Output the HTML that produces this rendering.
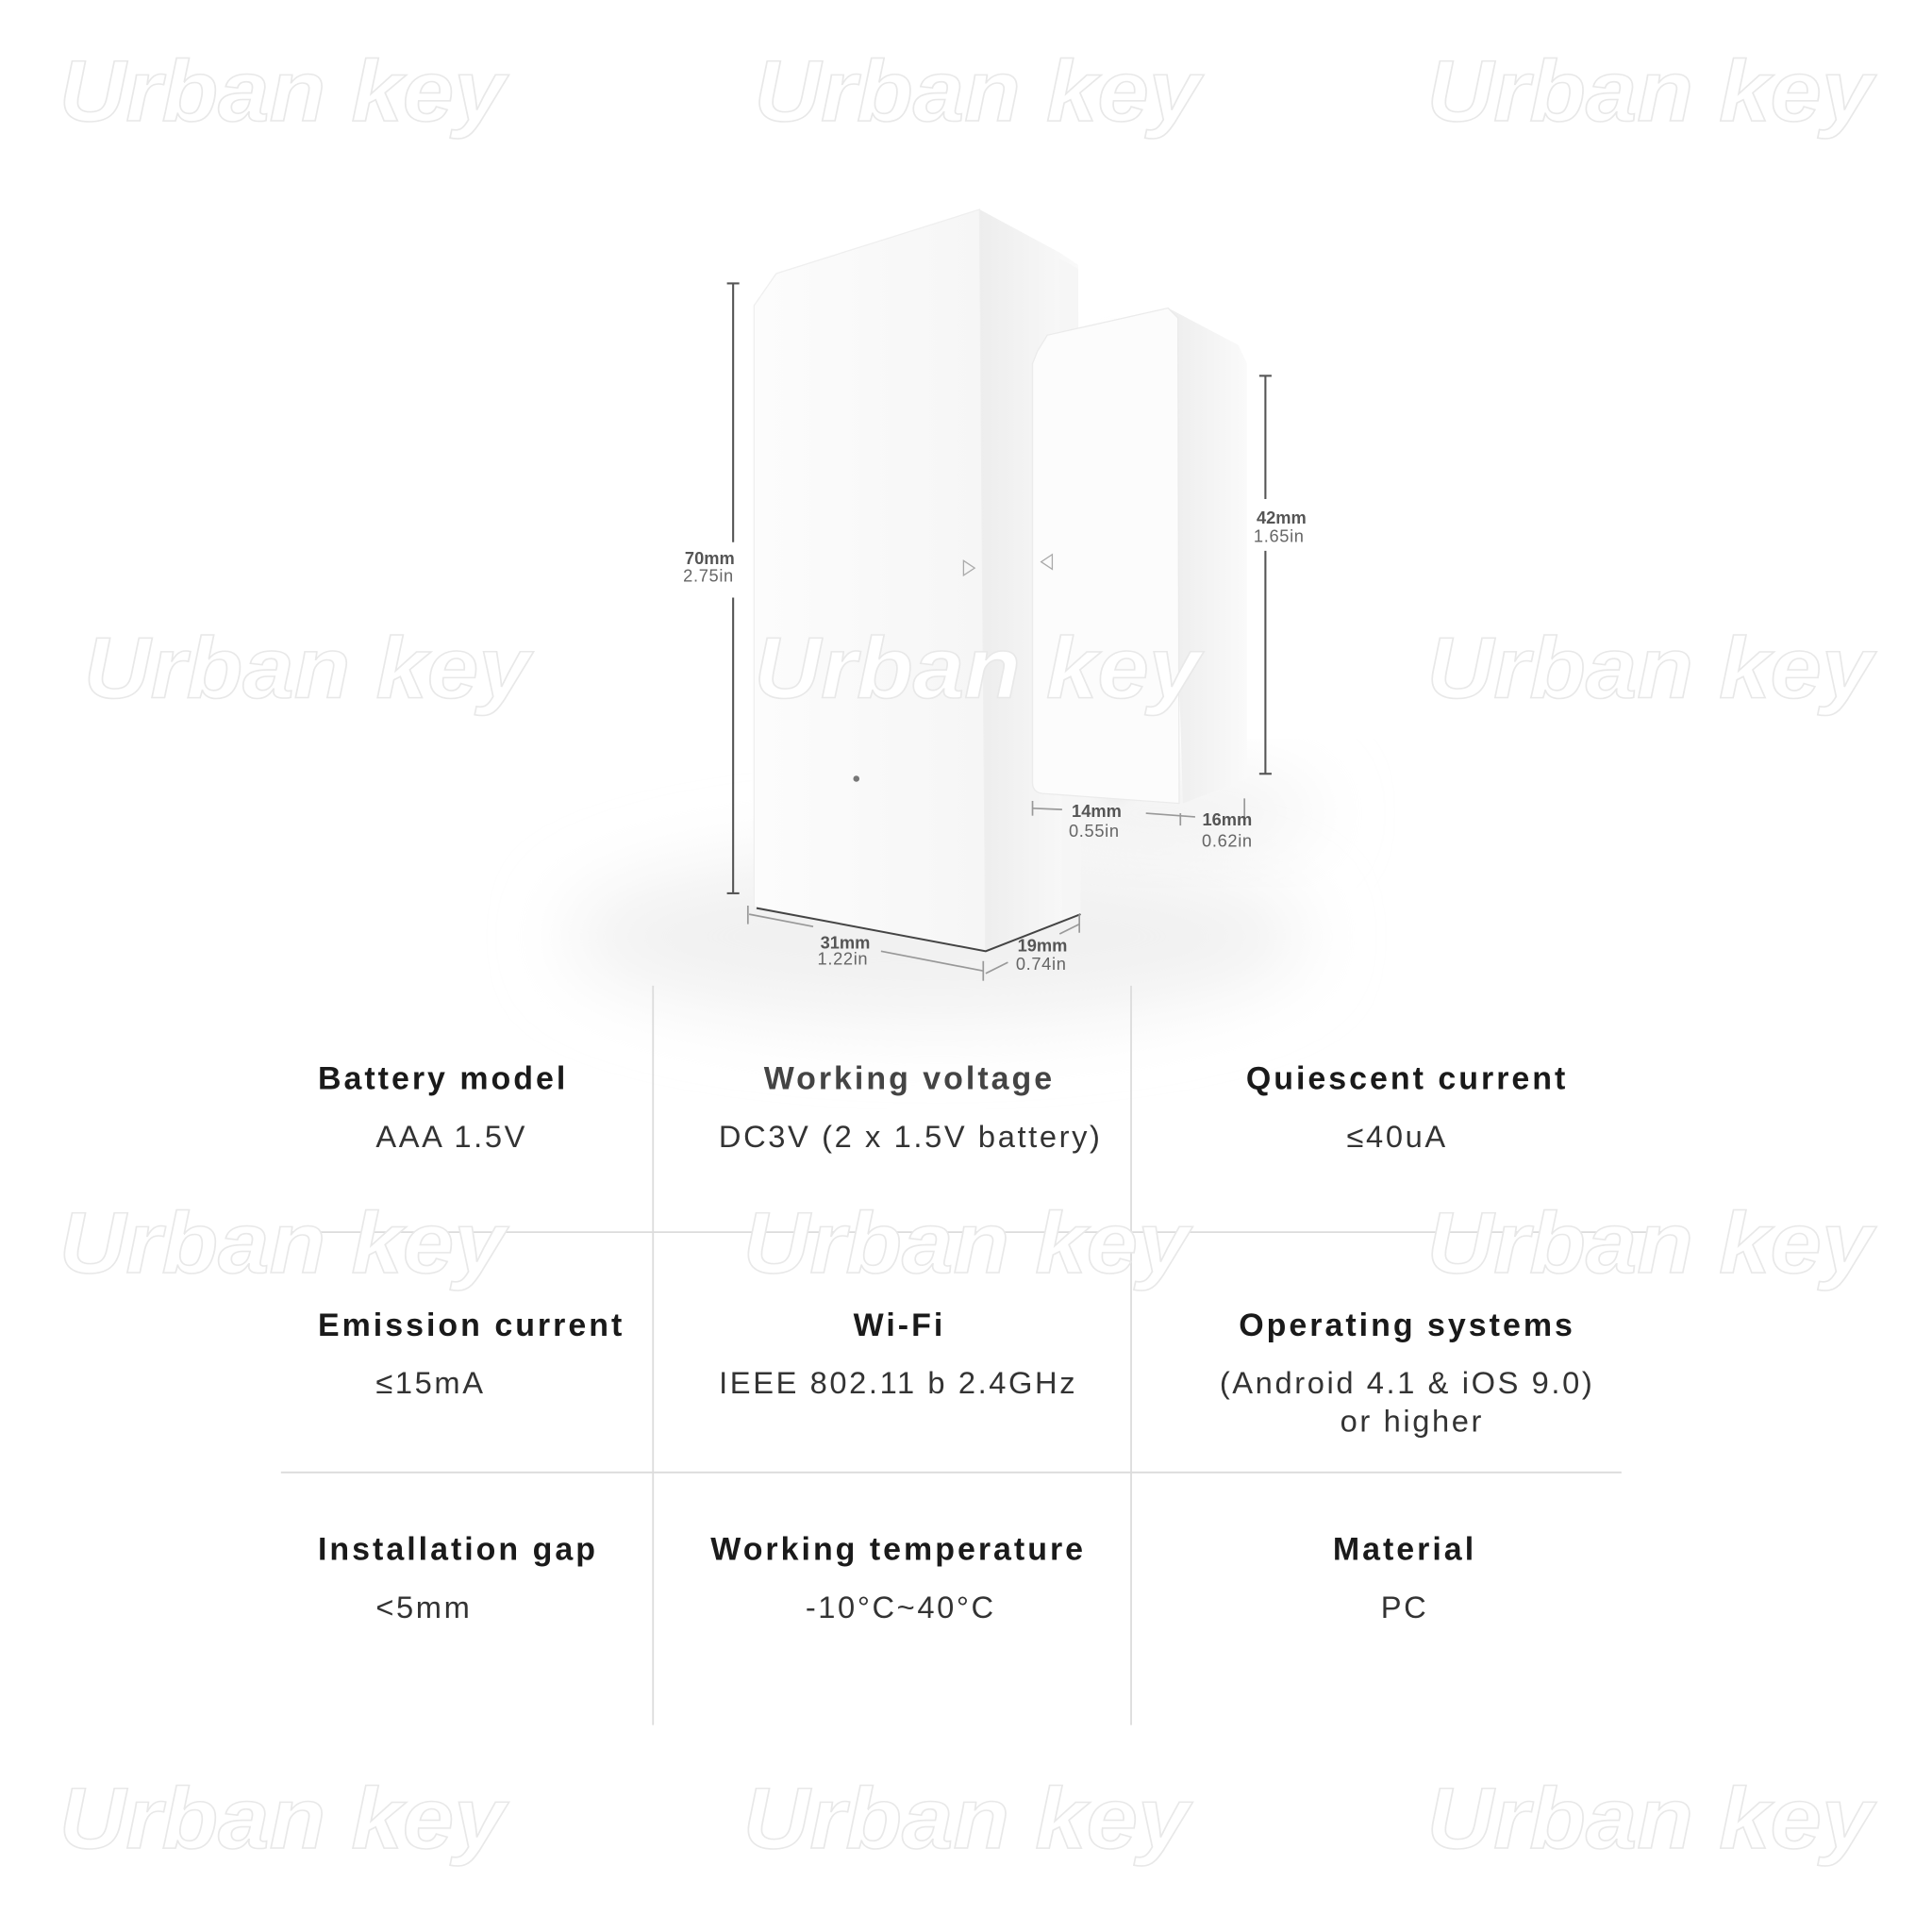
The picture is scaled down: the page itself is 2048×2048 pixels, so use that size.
<!DOCTYPE html>
<html><head><meta charset="utf-8"><style>
html,body{margin:0;padding:0;background:#fff;width:2048px;height:2048px;overflow:hidden}
svg{display:block}
.h{font-family:"Liberation Sans",sans-serif;font-weight:bold;font-size:26px;fill:#1a1a1a;letter-spacing:2.3px}
.v{font-family:"Liberation Sans",sans-serif;font-size:25px;fill:#333;letter-spacing:2px}
.d{font-family:"Liberation Sans",sans-serif;font-weight:bold;font-size:14px;fill:#555}
.di{font-family:"Liberation Sans",sans-serif;font-size:14px;fill:#666;letter-spacing:0.5px}
.w{font-family:"Liberation Sans",sans-serif;font-weight:bold;font-style:italic;font-size:70px;fill:#fff;stroke:#e8e8e8;stroke-width:1.2}
</style></head><body>
<svg width="2048" height="2048" viewBox="0 0 1568 1568" xmlns="http://www.w3.org/2000/svg">
<defs>
<filter id="blur" x="-50%" y="-50%" width="200%" height="200%"><feGaussianBlur stdDeviation="30"/></filter>
<filter id="blur2" x="-50%" y="-50%" width="200%" height="200%"><feGaussianBlur stdDeviation="6"/></filter>
<linearGradient id="side" x1="0" x2="1"><stop offset="0" stop-color="#ededed"/><stop offset="1" stop-color="#fafafa"/></linearGradient>
<linearGradient id="front" x1="0" x2="1"><stop offset="0" stop-color="#fcfcfc"/><stop offset="1" stop-color="#f6f6f6"/></linearGradient>
</defs>
<!-- shadow -->
<ellipse cx="760" cy="760" rx="300" ry="70" fill="#f1f1f1" filter="url(#blur)"/>
<ellipse cx="940" cy="660" rx="130" ry="30" fill="#f0f0f0" filter="url(#blur)"/>
<!-- main body side -->
<polygon points="795,170 860,205 875,215 877,742 800,772" fill="url(#side)"/>
<polygon points="860,210 875,218 877,740 862,745" fill="#f6f6f6"/>
<!-- main front -->
<polygon points="612,248 630,222 795,170 800,772 612,736" fill="url(#front)" stroke="#efefef" stroke-width="1"/>
<path d="M614,737 L800,772 L877,742" fill="none" stroke="#444" stroke-width="1.5"/>
<circle cx="695" cy="632" r="2.5" fill="#777"/>
<!-- magnet side -->
<ellipse cx="905" cy="460" rx="40" ry="190" fill="#e8e8e8" filter="url(#blur2)"/>
<polygon points="948,250 1005,280 1012,295 1012,632 960,652" fill="url(#side)"/>
<!-- magnet front -->
<path d="M842,285 L850,272 L948,250 L956,258 L957,652 L846,644 Q838,643 838,635 L838,295 Z" fill="#fcfcfc" stroke="#ebebeb" stroke-width="1"/>
<polygon points="782,455 791,461 782,467" fill="none" stroke="#aaa" stroke-width="1"/>
<polygon points="854,450 845,456 854,462" fill="none" stroke="#aaa" stroke-width="1"/>
<!-- dimension lines -->
<g stroke="#555" stroke-width="1.6" fill="none">
<line x1="595" y1="230" x2="595" y2="440"/><line x1="595" y1="485" x2="595" y2="725"/>
<line x1="590" y1="230" x2="600" y2="230"/><line x1="590" y1="725" x2="600" y2="725"/>
<line x1="1027" y1="305" x2="1027" y2="405"/><line x1="1027" y1="447" x2="1027" y2="628"/>
<line x1="1022" y1="305" x2="1032" y2="305"/><line x1="1022" y1="628" x2="1032" y2="628"/>
</g>
<g stroke="#999" stroke-width="1.3" fill="none">
<line x1="608" y1="742" x2="660" y2="752"/><line x1="715" y1="772" x2="798" y2="788"/>
<line x1="607" y1="735" x2="607" y2="750"/><line x1="798" y1="780" x2="798" y2="796"/>
<line x1="800" y1="790" x2="818" y2="781"/><line x1="860" y1="758" x2="876" y2="750"/>
<line x1="876" y1="742" x2="876" y2="757"/>
<line x1="838" y1="656" x2="862" y2="657"/><line x1="838" y1="650" x2="838" y2="662"/>
<line x1="930" y1="660" x2="970" y2="663"/>
<line x1="958" y1="660" x2="958" y2="670"/><line x1="1010" y1="648" x2="1010" y2="665"/>
</g>
<text class="d" x="576" y="458" text-anchor="middle">70mm</text>
<text class="di" x="575" y="472" text-anchor="middle">2.75in</text>
<text class="d" x="1040" y="425" text-anchor="middle">42mm</text>
<text class="di" x="1038" y="440" text-anchor="middle">1.65in</text>
<text class="d" x="686" y="770" text-anchor="middle">31mm</text>
<text class="di" x="684" y="783" text-anchor="middle">1.22in</text>
<text class="d" x="846" y="772" text-anchor="middle">19mm</text>
<text class="di" x="845" y="787" text-anchor="middle">0.74in</text>
<text class="d" x="890" y="663" text-anchor="middle">14mm</text>
<text class="di" x="888" y="679" text-anchor="middle">0.55in</text>
<text class="d" x="996" y="670" text-anchor="middle">16mm</text>
<text class="di" x="996" y="687" text-anchor="middle">0.62in</text>
<!-- table lines -->
<g stroke="#dcdcdc" stroke-width="1.4">
<line x1="530" y1="800" x2="530" y2="1400"/>
<line x1="918" y1="800" x2="918" y2="1400"/>
<line x1="228" y1="1000" x2="1350" y2="1000"/>
<line x1="228" y1="1195" x2="1316" y2="1195"/>
</g>
<!-- table text -->
<text class="h" x="258" y="884">Battery model</text>
<text class="v" x="305" y="931">AAA 1.5V</text>
<text class="h" x="738" y="884" text-anchor="middle" style="fill:#444">Working voltage</text>
<text class="v" x="739" y="931" text-anchor="middle">DC3V (2 x 1.5V battery)</text>
<text class="h" x="1142" y="884" text-anchor="middle">Quiescent current</text>
<text class="v" x="1134" y="931" text-anchor="middle">≤40uA</text>
<text class="h" x="258" y="1084">Emission current</text>
<text class="v" x="305" y="1131">≤15mA</text>
<text class="h" x="730" y="1084" text-anchor="middle">Wi-Fi</text>
<text class="v" x="729" y="1131" text-anchor="middle">IEEE 802.11 b 2.4GHz</text>
<text class="h" x="1142" y="1084" text-anchor="middle">Operating systems</text>
<text class="v" x="1142" y="1131" text-anchor="middle">(Android 4.1 &amp; iOS 9.0)</text>
<text class="v" x="1146" y="1162" text-anchor="middle">or higher</text>
<text class="h" x="258" y="1266">Installation gap</text>
<text class="v" x="305" y="1313">&lt;5mm</text>
<text class="h" x="729" y="1266" text-anchor="middle">Working temperature</text>
<text class="v" x="731" y="1313" text-anchor="middle">-10°C~40°C</text>
<text class="h" x="1140" y="1266" text-anchor="middle">Material</text>
<text class="v" x="1140" y="1313" text-anchor="middle">PC</text>
<!-- watermarks -->
<g class="w">
<text x="48" y="98" textLength="362" lengthAdjust="spacingAndGlyphs">Urban key</text>
<text x="612" y="98" textLength="362" lengthAdjust="spacingAndGlyphs">Urban key</text>
<text x="1158" y="98" textLength="362" lengthAdjust="spacingAndGlyphs">Urban key</text>
<text x="68" y="566" textLength="362" lengthAdjust="spacingAndGlyphs">Urban key</text>
<text x="612" y="566" textLength="362" lengthAdjust="spacingAndGlyphs">Urban key</text>
<text x="1158" y="566" textLength="362" lengthAdjust="spacingAndGlyphs">Urban key</text>
<text x="48" y="1033" textLength="362" lengthAdjust="spacingAndGlyphs">Urban key</text>
<text x="603" y="1033" textLength="362" lengthAdjust="spacingAndGlyphs">Urban key</text>
<text x="1158" y="1033" textLength="362" lengthAdjust="spacingAndGlyphs">Urban key</text>
<text x="48" y="1500" textLength="362" lengthAdjust="spacingAndGlyphs">Urban key</text>
<text x="603" y="1500" textLength="362" lengthAdjust="spacingAndGlyphs">Urban key</text>
<text x="1158" y="1500" textLength="362" lengthAdjust="spacingAndGlyphs">Urban key</text>
</g>
</svg>
</body></html>
